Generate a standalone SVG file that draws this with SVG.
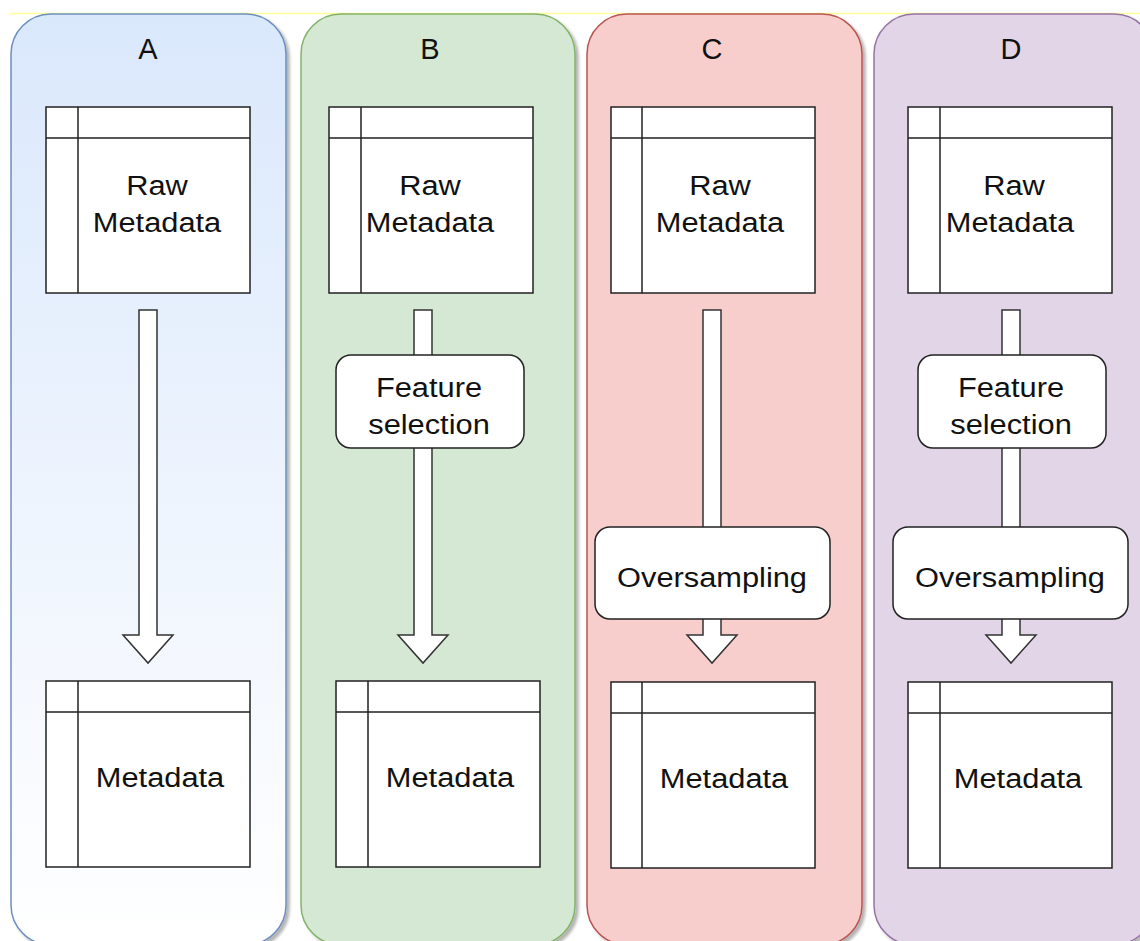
<svg xmlns="http://www.w3.org/2000/svg" width="1140" height="941" viewBox="0 0 1140 941">
<defs>
<linearGradient id="gA" x1="0" y1="0" x2="0" y2="1">
<stop offset="0" stop-color="#dae8fc"/>
<stop offset="1" stop-color="#ffffff"/>
</linearGradient>
<filter id="sh" x="-10%" y="-10%" width="120%" height="120%">
<feGaussianBlur in="SourceAlpha" stdDeviation="1.5"/>
<feOffset dx="3" dy="3" result="b"/>
<feComponentTransfer><feFuncA type="linear" slope="0.3"/></feComponentTransfer>
<feMerge><feMergeNode/><feMergeNode in="SourceGraphic"/></feMerge>
</filter>
</defs>
<style>
.panel{stroke-width:1.5}
.tbl{fill:#fff;stroke:#222;stroke-width:1.5}
.ln{stroke:#222;stroke-width:1.5;fill:none}
.box{fill:#fff;stroke:#222;stroke-width:1.5}
.arr{fill:#fff;stroke:#333;stroke-width:1.5;stroke-linejoin:miter}
.t{font-family:"Liberation Sans",Arial,sans-serif;font-size:28px;fill:#111;text-anchor:middle}
.h{font-family:"Liberation Sans",Arial,sans-serif;font-size:29px;fill:#111;text-anchor:middle}
</style>
<rect width="1140" height="941" fill="#fff"/>
<line x1="10" y1="13.5" x2="1140" y2="13.5" stroke="#ffff99" stroke-width="1.5"/>

<g id="panelA">
<rect class="panel" x="11" y="14" width="275" height="931" rx="40" fill="url(#gA)" stroke="#6c8ebf" filter="url(#sh)"/>
<text class="h" x="148" y="59">A</text>
</g>
<g id="panelB">
<rect class="panel" x="301" y="14" width="274" height="931" rx="40" fill="#d5e8d4" stroke="#82b366" filter="url(#sh)"/>
<text class="h" x="430" y="59">B</text>
</g>
<g id="panelC">
<rect class="panel" x="587" y="14" width="275" height="931" rx="40" fill="#f8cecc" stroke="#b85450" filter="url(#sh)"/>
<text class="h" x="712" y="59">C</text>
</g>
<g id="panelD">
<rect class="panel" x="874" y="14" width="280" height="931" rx="40" fill="#e1d5e7" stroke="#9673a6" filter="url(#sh)"/>
<text class="h" x="1011" y="59">D</text>
</g>

<g id="connectors">
<path class="arr" d="M139,310 H157 V635 H173 L148,663 L123,635 H139 Z"/>
<path class="arr" d="M414,310 H432 V635 H448 L423,663 L398,635 H414 Z"/>
<path class="arr" d="M703,310 H721 V635 H737 L712,663 L687,635 H703 Z"/>
<path class="arr" d="M1002,310 H1020 V635 H1036 L1011,663 L986,635 H1002 Z"/>
</g>

<g id="A-raw">
<rect class="tbl" x="46" y="107" width="204" height="186"/>
<path class="ln" d="M46,138 H250 M78,107 V293"/>
<text class="t" transform="translate(157,195) scale(1.1,1)">Raw</text>
<text class="t" transform="translate(157,232) scale(1.1,1)">Metadata</text>
</g>
<g id="A-meta">
<rect class="tbl" x="46" y="681" width="204" height="186"/>
<path class="ln" d="M46,712 H250 M78,681 V867"/>
<text class="t" transform="translate(160,787) scale(1.1,1)">Metadata</text>
</g>

<g id="B-raw">
<rect class="tbl" x="329" y="107" width="204" height="186"/>
<path class="ln" d="M329,138 H533 M361,107 V293"/>
<text class="t" transform="translate(430,195) scale(1.1,1)">Raw</text>
<text class="t" transform="translate(430,232) scale(1.1,1)">Metadata</text>
</g>
<g id="B-fs">
<rect class="box" x="336" y="355" width="188" height="93" rx="15"/>
<text class="t" transform="translate(429,397) scale(1.1,1)">Feature</text>
<text class="t" transform="translate(429,434) scale(1.1,1)">selection</text>
</g>
<g id="B-meta">
<rect class="tbl" x="336" y="681" width="204" height="186"/>
<path class="ln" d="M336,712 H540 M368,681 V867"/>
<text class="t" transform="translate(450,787) scale(1.1,1)">Metadata</text>
</g>

<g id="C-raw">
<rect class="tbl" x="611" y="107" width="204" height="186"/>
<path class="ln" d="M611,138 H815 M642,107 V293"/>
<text class="t" transform="translate(720,195) scale(1.1,1)">Raw</text>
<text class="t" transform="translate(720,232) scale(1.1,1)">Metadata</text>
</g>
<g id="C-os">
<rect class="box" x="595" y="527" width="235" height="92" rx="15"/>
<text class="t" transform="translate(712,587) scale(1.1,1)">Oversampling</text>
</g>
<g id="C-meta">
<rect class="tbl" x="611" y="682" width="204" height="186"/>
<path class="ln" d="M611,713 H815 M642,682 V868"/>
<text class="t" transform="translate(724,788) scale(1.1,1)">Metadata</text>
</g>

<g id="D-raw">
<rect class="tbl" x="908" y="107" width="204" height="186"/>
<path class="ln" d="M908,138 H1112 M940,107 V293"/>
<text class="t" transform="translate(1014,195) scale(1.1,1)">Raw</text>
<text class="t" transform="translate(1010,232) scale(1.1,1)">Metadata</text>
</g>
<g id="D-fs">
<rect class="box" x="918" y="355" width="188" height="93" rx="15"/>
<text class="t" transform="translate(1011,397) scale(1.1,1)">Feature</text>
<text class="t" transform="translate(1011,434) scale(1.1,1)">selection</text>
</g>
<g id="D-os">
<rect class="box" x="893" y="527" width="235" height="92" rx="15"/>
<text class="t" transform="translate(1010,587) scale(1.1,1)">Oversampling</text>
</g>
<g id="D-meta">
<rect class="tbl" x="908" y="682" width="204" height="186"/>
<path class="ln" d="M908,713 H1112 M940,682 V868"/>
<text class="t" transform="translate(1018,788) scale(1.1,1)">Metadata</text>
</g>
</svg>
